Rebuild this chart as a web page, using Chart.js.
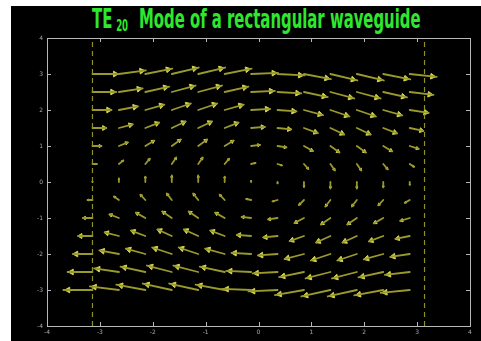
<!DOCTYPE html>
<html>
<head>
<meta charset="utf-8">
<script src="https://cdn.jsdelivr.net/npm/chart.js@4.4.0/dist/chart.umd.min.js"></script>
<style>
    html, body { margin: 0; padding: 0; background: #fff; }
    body { width: 481px; height: 341px; position: relative; overflow: hidden; }
    #panel { position: absolute; left: 11px; top: 6px; width: 470px; height: 335px; background: #000; }
    #chart { position: absolute; left: 0; top: 0; }
    #title {
        position: absolute; left: 81px; top: -2px;
        font-family: "DejaVu Sans Condensed", "DejaVu Sans", sans-serif;
        font-weight: bold; font-size: 26px; color: #2ee82e;
        white-space: nowrap; transform-origin: 0 0;
    }
    #title sub { font-size: 15px; vertical-align: -3px; margin: 0 9px 0 6px; }
</style>
</head>
<body>
<div id="panel">
    <div id="title">TE<sub>20</sub> Mode of a rectangular waveguide</div>
    <canvas id="chart" width="470" height="335"></canvas>
</div>
<script>
// --- DATOS ---
// posiciones de la malla del quiver
const gridX = [-3.14, -2.64, -2.14, -1.64, -1.14, -0.64, -0.14, 0.36, 0.86, 1.36, 1.86, 2.36, 2.86];
const gridY = [3, 2.5, 2, 1.5, 1, 0.5, 0, -0.5, -1, -1.5, -2, -2.5, -3];
// componente horizontal de cada fila, vertical de cada columna (unidades de datos)
const uByRow = [0.51, 0.45, 0.36, 0.26, 0.17, 0.085, 0, -0.095, -0.18, -0.27, -0.37, -0.47, -0.55];
const vByCol = [0, 0.10, 0.15, 0.18, 0.18, 0.15, 0.03, -0.04, -0.14, -0.18, -0.18, -0.15, -0.08];
// paredes de la guía (líneas discontinuas)
const wallX = [-3.14, 3.14];
const axisTicks = [-4, -3, -2, -1, 0, 1, 2, 3, 4];

// --- Flechas ---
const arrows = [];
gridY.forEach((y, i) => {
    gridX.forEach((x, j) => {
        arrows.push({ x: x, y: y, u: uByRow[i], v: vByCol[j] });
    });
});

const shaftData = [];
arrows.forEach(a => {
    shaftData.push({ x: a.x, y: a.y });
    shaftData.push({ x: a.x + a.u, y: a.y + a.v });
    shaftData.push({ x: null, y: null }); // corte entre flechas
});
const headData = arrows.map(a => ({ x: a.x + 0.84 * a.u, y: a.y + 0.84 * a.v }));

const wallSets = wallX.map(wx => ({
    type: 'line',
    data: [{ x: wx, y: -4 }, { x: wx, y: 4 }],
    borderColor: '#8f8f26',
    borderWidth: 1.2,
    borderDash: [5, 4],
    pointRadius: 0
}));

// longitud en píxeles de una flecha
function pixelVector(chart, a) {
    const xs = chart.scales.x, ys = chart.scales.y;
    const dx = xs.getPixelForValue(a.x + a.u) - xs.getPixelForValue(a.x);
    const dy = ys.getPixelForValue(a.y + a.v) - ys.getPixelForValue(a.y);
    return { dx: dx, dy: dy, len: Math.hypot(dx, dy) };
}

// Marco de ejes con marcas hacia dentro (estilo MATLAB)
const framePlugin = {
    id: 'frame',
    afterDatasetsDraw(chart) {
        const ctx = chart.ctx;
        const area = chart.chartArea;
        const xs = chart.scales.x, ys = chart.scales.y;
        ctx.save();
        ctx.strokeStyle = '#b8b8b8';
        ctx.lineWidth = 1;
        ctx.strokeRect(Math.round(area.left) + 0.5, Math.round(area.top) + 0.5,
            Math.round(area.right - area.left), Math.round(area.bottom - area.top));
        ctx.beginPath();
        axisTicks.forEach(t => {
            const px = Math.round(xs.getPixelForValue(t)) + 0.5;
            ctx.moveTo(px, area.bottom); ctx.lineTo(px, area.bottom - 4);
            ctx.moveTo(px, area.top); ctx.lineTo(px, area.top + 4);
            const py = Math.round(ys.getPixelForValue(t)) + 0.5;
            ctx.moveTo(area.left, py); ctx.lineTo(area.left + 4, py);
            ctx.moveTo(area.right, py); ctx.lineTo(area.right - 4, py);
        });
        ctx.stroke();
        ctx.restore();
    }
};

new Chart(document.getElementById('chart'), {
    data: {
        datasets: [
            ...wallSets,
            {
                type: 'line',
                data: shaftData,
                borderColor: '#99992e',
                borderWidth: 1.8,
                pointRadius: 0,
                spanGaps: false,
                borderCapStyle: 'round'
            },
            {
                type: 'scatter',
                data: headData,
                pointStyle: 'triangle',
                backgroundColor: '#d4d44c',
                borderColor: '#d4d44c',
                borderWidth: 1,
                radius: ctx => {
                    const p = pixelVector(ctx.chart, arrows[ctx.dataIndex]);
                    return Math.max(0.7, Math.min(3.3, 0.2 * p.len));
                },
                rotation: ctx => {
                    const p = pixelVector(ctx.chart, arrows[ctx.dataIndex]);
                    return Math.atan2(p.dx, -p.dy) * 180 / Math.PI;
                }
            }
        ]
    },
    options: {
        responsive: false,
        animation: false,
        events: [],
        layout: { padding: { top: 32, right: 11, left: 0, bottom: 0 } },
        plugins: { legend: { display: false }, tooltip: { enabled: false } },
        scales: {
            x: {
                type: 'linear', min: -4, max: 4,
                grid: { display: false, drawTicks: false },
                border: { display: false },
                ticks: { stepSize: 1, padding: 3, color: '#a8a8a8', font: { size: 6, family: 'DejaVu Sans' } },
                afterFit: scale => { scale.height = 15; }
            },
            y: {
                type: 'linear', min: -4, max: 4,
                grid: { display: false, drawTicks: false },
                border: { display: false },
                ticks: { stepSize: 1, padding: 4, color: '#a8a8a8', font: { size: 6, family: 'DejaVu Sans' } },
                afterFit: scale => { scale.width = 36; }
            }
        }
    },
    plugins: [framePlugin]
});

// Ajustar el título al ancho del original (fuente condensada)
const title = document.getElementById('title');
const scaleX = 329 / title.offsetWidth;
title.style.transform = 'scaleX(' + scaleX.toFixed(3) + ')';
</script>
</body>
</html>
